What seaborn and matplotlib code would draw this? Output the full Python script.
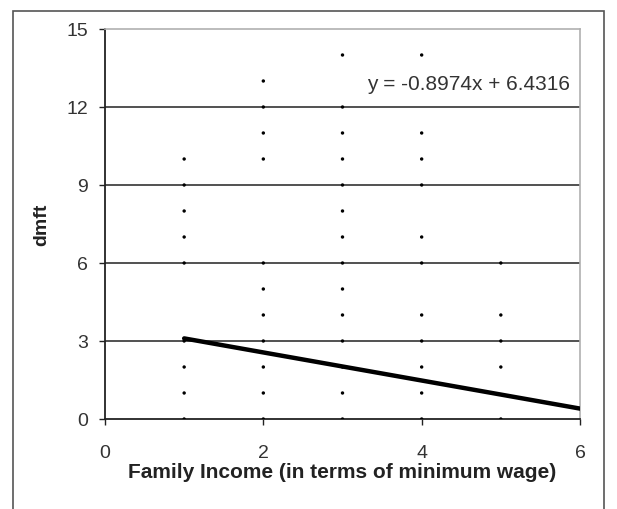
import matplotlib
matplotlib.use("Agg")
import matplotlib.pyplot as plt
import seaborn as sns
import pandas as pd
from matplotlib.patches import Rectangle

# data
dmft_1 = [0, 1, 2, 3, 6, 7, 8, 9, 10]
income_1 = [1] * len(dmft_1)
dmft_2 = [0, 1, 2, 3, 4, 5, 6, 10, 11, 12, 13]
income_2 = [2] * len(dmft_2)
dmft_3 = [0, 1, 2, 3, 4, 5, 6, 7, 8, 9, 10, 11, 12, 14]
income_3 = [3] * len(dmft_3)
dmft_4 = [0, 1, 2, 3, 4, 6, 7, 9, 10, 11, 14]
income_4 = [4] * len(dmft_4)
dmft_5 = [0, 2, 3, 4, 6]
income_5 = [5] * len(dmft_5)

trend_x = [1, 6]
trend_y = [3.1, 0.4]
equation = "y = -0.8974x + 6.4316"
x_ticks = [0, 2, 4, 6]
y_ticks = [0, 3, 6, 9, 12, 15]
grid_y = [3, 6, 9, 12]

df = pd.DataFrame({
    "income": income_1 + income_2 + income_3 + income_4 + income_5,
    "dmft": dmft_1 + dmft_2 + dmft_3 + dmft_4 + dmft_5,
})
trend = pd.DataFrame({"income": trend_x, "dmft": trend_y})

sns.set_style("white")
plt.rcParams['font.family'] = ['Liberation Sans', 'DejaVu Sans']

fig = plt.figure(figsize=(6.17, 5.10), dpi=100)
ax = fig.add_axes([105/617, 1 - 420/510, (580 - 105)/617, (420 - 30)/510])

# outer border
fig.patches.append(Rectangle((13/617, -0.02), (604 - 13)/617, 1 - 12/510 + 0.02,
                             transform=fig.transFigure, fill=False,
                             edgecolor="#555555", linewidth=1.2))

for yv in grid_y:
    ax.axhline(yv, color="#222222", linewidth=1.1, zorder=1)

sns.scatterplot(data=df, x="income", y="dmft", ax=ax, color="black",
                s=6, marker="o", edgecolor="none", zorder=3, legend=False)
sns.lineplot(data=trend, x="income", y="dmft", ax=ax, color="black",
             linewidth=3.2, zorder=4)

ax.set_xlim(0, 6)
ax.set_ylim(0, 15)
ax.set_xticks(x_ticks)
ax.set_yticks(y_ticks)
ax.tick_params(axis="both", labelsize=14, labelcolor="#333333",
               color="#222222", length=4, width=1, direction="out",
               bottom=True, left=True)
ax.tick_params(axis="x", pad=14)
ax.tick_params(axis="y", pad=8)

for s in ["left", "bottom"]:
    ax.spines[s].set_color("#222222")
    ax.spines[s].set_linewidth(1.3)
for s in ["top", "right"]:
    ax.spines[s].set_visible(True)
    ax.spines[s].set_color("#b0b0b0")
    ax.spines[s].set_linewidth(1.2)

ax.set_xlabel("Family Income (in terms of minimum wage)", fontsize=15,
              fontweight="bold", color="#222222", labelpad=1)
ax.set_ylabel("dmft", fontsize=14, fontweight="bold", color="#222222",
              labelpad=12)

ax.text(5.88, 12.9, equation, fontsize=15, color="#333333", ha="right",
        va="center")

fig.savefig("out.png", dpi=100)
